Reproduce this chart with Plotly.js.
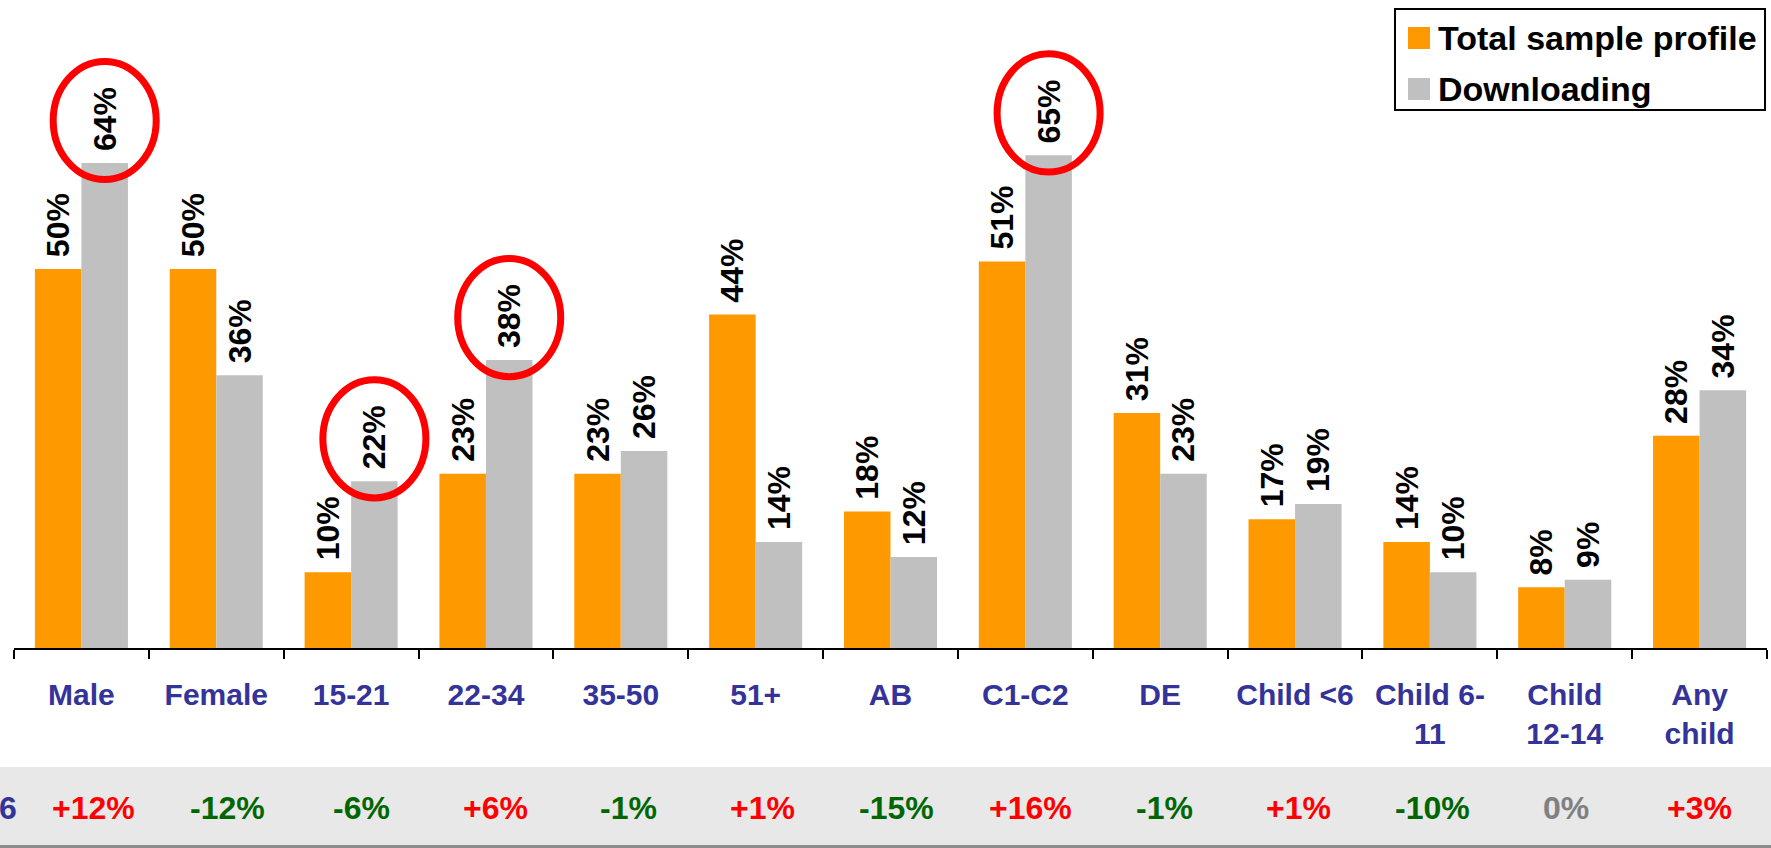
<!DOCTYPE html>
<html>
<head>
<meta charset="utf-8">
<script src="https://cdn.plot.ly/plotly-3.0.1.min.js"></script>
<style>
html,body{margin:0;padding:0;background:#fff;}
#chart{width:1771px;height:848px;}
</style>
</head>
<body>
<div id="chart"></div>
<script>
// ---- data ----
var categories = ["Male","Female","15-21","22-34","35-50","51+","AB","C1-C2","DE","Child <6","Child 6-<br>11","Child<br>12-14","Any<br>child"];
var totalSample = [50,50,10,23,23,44,18,51,31,17,14,8,28];
var downloading = [64,36,22,38,26,14,12,65,23,19,10,9,34];
var deltas = [12,-12,-6,6,-1,1,-15,16,-1,1,-10,0,3];
var highlighted = ["Male","15-21","22-34","C1-C2"];
var seriesNames = ["Total sample profile","Downloading"];
var leftStub = "6";

// ---- layout helpers ----
var W = 1771, H = 848;
var M = {l:14, r:4, t:0, b:200};
var PW = W - M.l - M.r, PH = H - M.t - M.b;
function px(x){ return (x - M.l) / PW; }
function py(y){ return (M.t + PH - y) / PH; }

var FONT = "Liberation Sans, Arial, Helvetica, sans-serif";
var ORANGE = "#FF9900", GREY = "#C0C0C0", BLUE = "#333399";
var labelFont = {family:FONT, size:32, color:"#000", weight:"bold"};

var traces = [
  {type:"bar", name:seriesNames[0], x:categories, y:totalSample,
   marker:{color:ORANGE}, texttemplate:"\u00a0%{y}%", textposition:"outside",
   textangle:-90, constraintext:"none", cliponaxis:false,
   textfont:labelFont, showlegend:false, hoverinfo:"x+y"},
  {type:"bar", name:seriesNames[1], x:categories, y:downloading,
   marker:{color:GREY}, texttemplate:"\u00a0%{y}%", textposition:"outside",
   textangle:-90, constraintext:"none", cliponaxis:false,
   textfont:labelFont, showlegend:false, hoverinfo:"x+y"}
];

var shapes = [];
var annotations = [];

// bottom band
shapes.push({type:"rect", xref:"paper", yref:"paper", x0:px(0), x1:px(W), y0:py(845), y1:py(767),
  fillcolor:"#E8E8E8", line:{width:0}, layer:"below"});
shapes.push({type:"rect", xref:"paper", yref:"paper", x0:px(0), x1:px(W), y0:py(848), y1:py(845),
  fillcolor:"#8C8C8C", line:{width:0}, layer:"below"});

// highlight ellipses round the Downloading labels
var groupFrac = 0.69, half = groupFrac/4; // offset of second bar center
highlighted.forEach(function(c){
  var i = categories.indexOf(c);
  var v = downloading[i];
  var cx = i + half;
  shapes.push({type:"circle", xref:"x", yref:"y",
    x0:cx - 0.382, x1:cx + 0.382, y0:v + 5.6 - 7.8, y1:v + 5.6 + 7.8,
    line:{color:"#FF0000", width:7}});
});

// delta row (table columns are slightly narrower than the chart's categories)
deltas.forEach(function(d, i){
  var col = d > 0 ? "#FF0000" : (d < 0 ? "#006600" : "#808080");
  var txt = (d > 0 ? "+" : "") + d + "%";
  annotations.push({xref:"x", yref:"paper", x:0.09 + i*0.9926, y:py(808), text:txt, showarrow:false,
    xanchor:"center", yanchor:"middle", font:{family:FONT, size:32, color:col, weight:"bold"}});
});
annotations.push({xref:"paper", yref:"paper", x:px(-3), y:py(808), text:leftStub, showarrow:false,
  xanchor:"left", yanchor:"middle", font:{family:FONT, size:32, color:BLUE, weight:"bold"}});

// custom legend
shapes.push({type:"rect", xref:"paper", yref:"paper", x0:px(1395), x1:px(1765), y0:py(110), y1:py(9),
  fillcolor:"#FFFFFF", line:{color:"#000", width:2}});
[ORANGE, GREY].forEach(function(c, k){
  var top = 27 + k*51;
  shapes.push({type:"rect", xref:"paper", yref:"paper", x0:px(1408), x1:px(1430), y0:py(top+22), y1:py(top),
    fillcolor:c, line:{width:0}});
  annotations.push({xref:"paper", yref:"paper", x:px(1436), y:py(top+11), text:seriesNames[k], showarrow:false,
    xanchor:"left", yanchor:"middle", font:{family:FONT, size:34, color:"#000", weight:"bold"}});
});

var layout = {
  width:W, height:H,
  margin:M,
  paper_bgcolor:"#FFFFFF", plot_bgcolor:"#FFFFFF",
  barmode:"group", bargap:0.31, bargroupgap:0,
  showlegend:false,
  xaxis:{type:"category", showline:true, linecolor:"#000", linewidth:2,
    ticks:"outside", ticklen:9, tickwidth:2, tickcolor:"#000", tickson:"boundaries",
    ticklabelstandoff:19,
    tickfont:{family:FONT, size:30, color:BLUE, weight:"bold"}, showgrid:false, zeroline:false},
  yaxis:{range:[0, 85.5], visible:false, showgrid:false, zeroline:false},
  shapes:shapes, annotations:annotations
};

Plotly.newPlot("chart", traces, layout, {displayModeBar:false, staticPlot:true});
</script>
</body>
</html>
